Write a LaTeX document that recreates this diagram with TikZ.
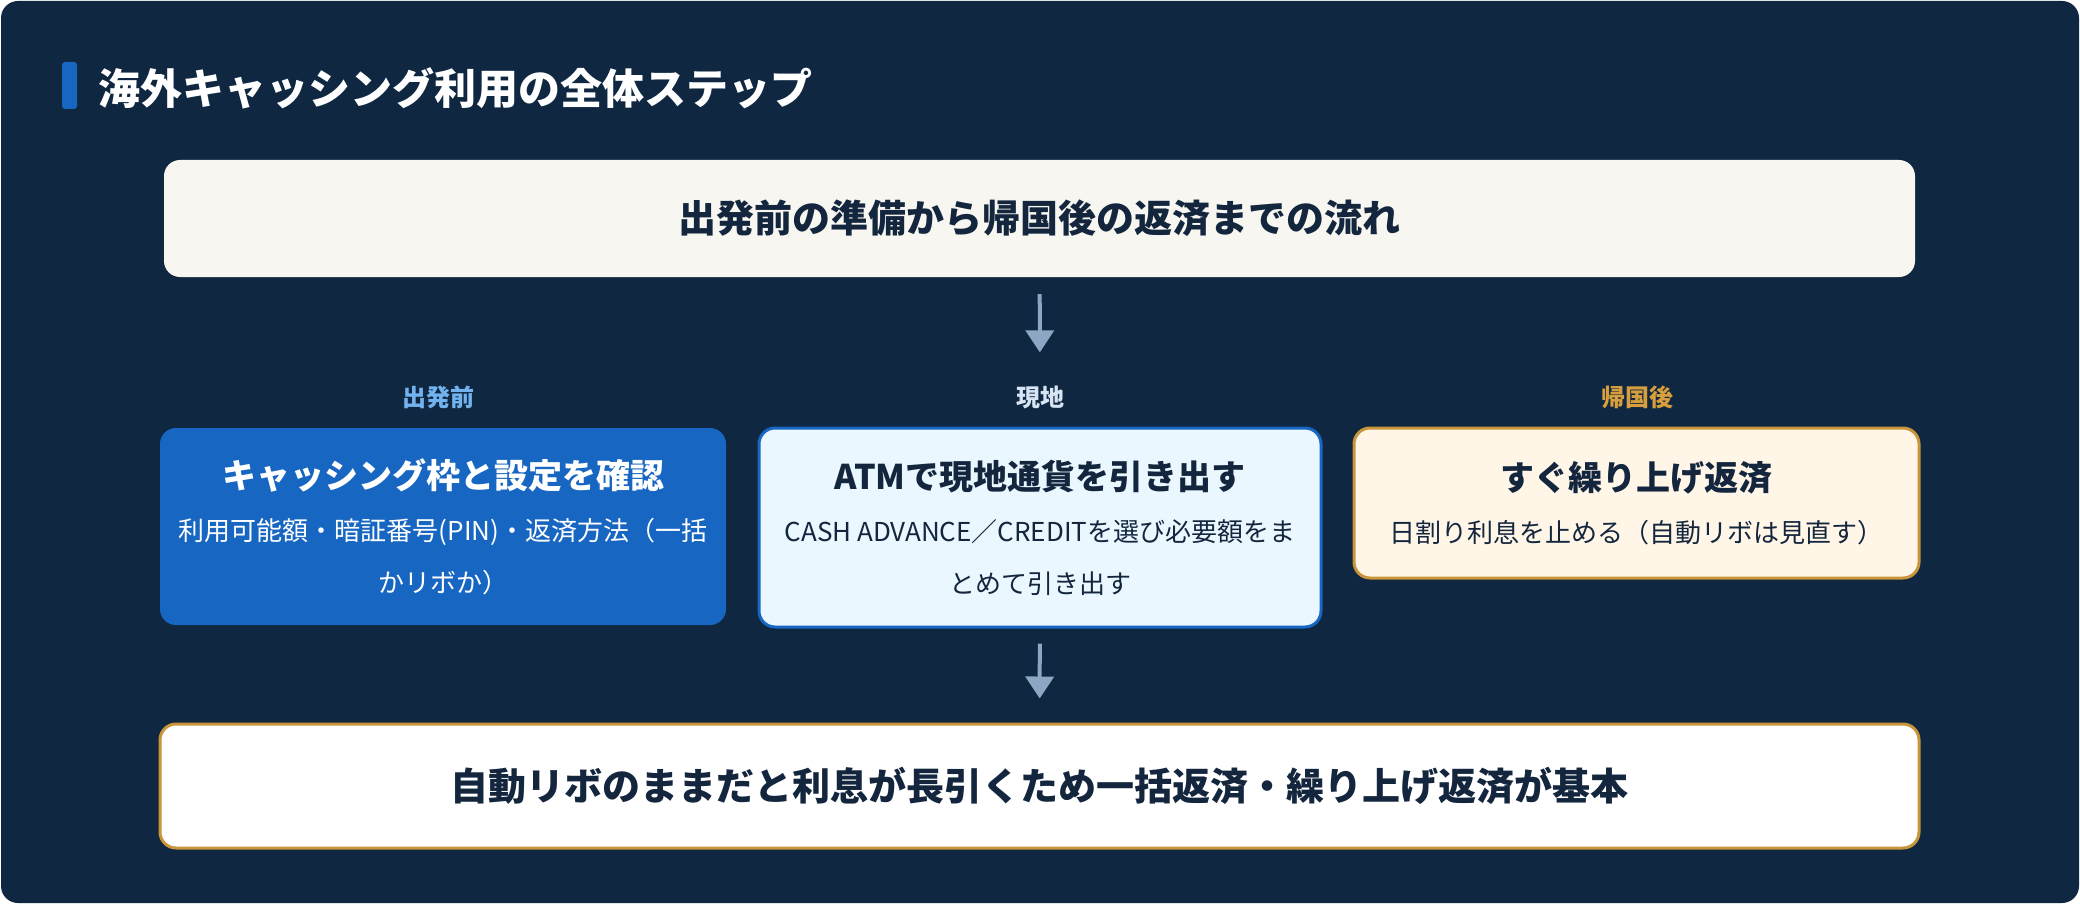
\documentclass[tikz,border=0pt]{standalone}
\usepackage{fontspec}
\setmainfont{Noto Sans CJK JP}
\usetikzlibrary{arrows.meta,positioning}
\definecolor{night}{HTML}{0F2741}
\definecolor{ink}{HTML}{13263D}
\definecolor{accent}{HTML}{1766C2}
\definecolor{cream}{HTML}{F7F6F0}
\definecolor{arrowc}{HTML}{8CA6C4}
\definecolor{skyfill}{HTML}{EAF7FF}
\definecolor{goldline}{HTML}{C9953A}
\definecolor{goldfill}{HTML}{FFF6E7}
\definecolor{prelabel}{HTML}{72B2EE}
\definecolor{loclabel}{HTML}{D6E4F4}
\definecolor{postlabel}{HTML}{D69E3C}
\newcommand{\bigsz}{\fontsize{42}{50}\selectfont}
\newcommand{\leadsz}{\fontsize{38}{46}\selectfont}
\newcommand{\headsz}{\fontsize{34}{40}\selectfont}
\newcommand{\subsz}{\fontsize{26}{52}\selectfont}
\newcommand{\phasesz}{\fontsize{24}{28}\selectfont}
\tikzset{
 every node/.append style={align=center},
 panel/.style={rounded corners=16pt,inner sep=0pt,text=ink},
 lead/.style={panel,fill=cream,font=\leadsz\bfseries},
 stage/.style={panel,font=\subsz,line width=3pt},
 prebox/.style={stage,fill=accent,text=white},
 locbox/.style={stage,draw=accent,fill=skyfill},
 postbox/.style={stage,draw=goldline,fill=goldfill},
 rule/.style={panel,draw=goldline,fill=white,line width=3pt,font=\leadsz\bfseries},
 phase/.style={font=\phasesz\bfseries,inner sep=0pt},
 flow/.style={-{Triangle[length=22pt,width=28pt]},draw=arrowc,line width=4pt},
}
\newcommand{\head}[1]{{\headsz\bfseries #1}}

\begin{document}
\begin{tikzpicture}[x=1pt,y=-1pt]

\useasboundingbox (0,0) rectangle (2080,904);
\fill[night,rounded corners=17pt] (1,1) rectangle (2079,903);
\node[fill=accent,rounded corners=3pt,minimum width=15pt,minimum height=47pt,inner sep=0pt] (bar) at (69.5,85.5) {};
\node[anchor=west,inner sep=0pt,text=white,font=\bigsz\bfseries] (title) at (98,88) {海外キャッシング利用の全体ステップ};
\node[lead,minimum width=1751pt,minimum height=117pt] (overview) at (1039.5,218.5) {出発前の準備から帰国後の返済までの流れ};
% phases
\node[phase,text=prelabel] (prelbl) at (438,397) {出発前};
\node[phase,text=loclabel] (loclbl) at (1040,397) {現地};
\node[phase,text=postlabel] (postlbl) at (1637,397) {帰国後};
\node[prebox,minimum width=566pt,minimum height=197pt] (pre) at (443,526.5) {\head{キャッシング枠と設定を確認}\\利用可能額・暗証番号(PIN)・返済方法（一括\\かリボか）};
\node[locbox,minimum width=562pt,minimum height=199pt] (loc) at (1040,527.5) {\head{ATMで現地通貨を引き出す}\\CASH ADVANCE／CREDITを選び必要額をま\\とめて引き出す};
\node[postbox,minimum width=565pt,minimum height=150pt] (post) at (1636.5,503) {\head{すぐ繰り上げ返済}\\日割り利息を止める（自動リボは見直す）};
\node[rule,minimum width=1759pt,minimum height=124pt] (basis) at (1039.5,786) {自動リボのままだと利息が長引くため一括返済・繰り上げ返済が基本};
\draw[flow,shorten <=17pt,shorten >=33pt] (overview) -- (loclbl);
\draw[flow,shorten <=15pt,shorten >=24pt] (loc) -- (basis);

\end{tikzpicture}
\end{document}
